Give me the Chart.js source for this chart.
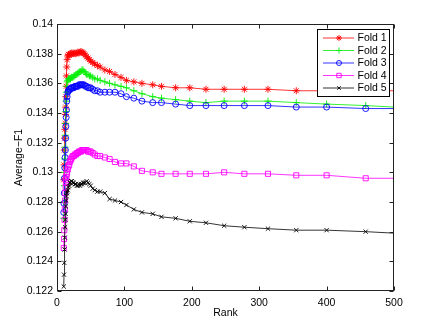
<!DOCTYPE html>
<html>
<head>
<meta charset="utf-8">
<script src="https://cdn.jsdelivr.net/npm/chart.js@4.4.1/dist/chart.umd.min.js"></script>
<style>
  html, body { margin: 0; padding: 0; background: #fff; }
  #wrap { width: 436px; height: 328px; }
</style>
</head>
<body>
<div id="wrap"><canvas id="chart" width="436" height="328"></canvas></div>
<script>
// x positions (rank) shared by every fold
const rank = [
    10, 10.4, 10.8, 11.2, 11.6, 12, 12.4, 12.8, 13.2, 13.6,
    14, 14.5, 15, 16, 17, 18, 19, 20, 21, 22,
    23.5, 25, 26.5, 28, 29.5, 31, 32.5, 34, 35.5, 37,
    38.5, 40, 42, 44, 46, 48, 50, 53, 56, 60,
    64, 71, 78, 86, 95, 103, 114, 126, 142, 155,
    176, 197, 221, 248, 278, 313, 355, 400, 458, 500
];

const fold1 = [
    0.1295, 0.1305, 0.1315, 0.1323, 0.1329, 0.1333, 0.1339, 0.1344, 0.1351, 0.1358,
    0.1365, 0.1371, 0.1376, 0.13785, 0.13795, 0.1379, 0.13795, 0.1380, 0.13795, 0.13805,
    0.1380, 0.13805, 0.1380, 0.1380, 0.13805, 0.1381, 0.13805, 0.1381, 0.13815, 0.1381,
    0.13805, 0.1380, 0.1379, 0.1378, 0.1377, 0.1376, 0.1375, 0.1374, 0.1373, 0.1372,
    0.1371, 0.1369, 0.1368, 0.1366, 0.1364, 0.1362, 0.1361, 0.1360, 0.1359, 0.1358,
    0.1357, 0.1357, 0.1356, 0.1356, 0.1356, 0.1356, 0.1355, 0.1355, 0.1355, 0.1355
];
const fold2 = [
    0.1269, 0.1280, 0.1291, 0.1300, 0.1309, 0.1317, 0.1325, 0.1333, 0.1341, 0.1348,
    0.1354, 0.1358, 0.1361, 0.1362, 0.1363, 0.1363, 0.1363, 0.1363, 0.1364, 0.1364,
    0.1364, 0.1365, 0.1365, 0.1366, 0.1366, 0.1367, 0.1367, 0.1368, 0.1368, 0.1369,
    0.1369, 0.1368, 0.1367, 0.1366, 0.1366, 0.1365, 0.1365, 0.1364, 0.1363, 0.1363,
    0.1362, 0.1361, 0.1360, 0.1359, 0.1358, 0.1357, 0.1355, 0.1353, 0.1351, 0.1350,
    0.1349, 0.1348, 0.1347, 0.1348, 0.1348, 0.1348, 0.1347, 0.1346, 0.1345, 0.1344
];
const fold3 = [
    0.1273, 0.1279, 0.1286, 0.1296, 0.1303, 0.1310, 0.1315, 0.1323, 0.1331, 0.1337,
    0.1342, 0.1348, 0.1351, 0.1354, 0.1355, 0.1356, 0.1356, 0.1356, 0.1357, 0.1357,
    0.1357, 0.1357, 0.1358, 0.1358, 0.1358, 0.1358, 0.1359, 0.1359, 0.1359, 0.1359,
    0.1359, 0.1359, 0.1358, 0.1358, 0.1357, 0.1357, 0.1357, 0.1356, 0.1355, 0.1355,
    0.1354, 0.1354, 0.1354, 0.1354, 0.1353, 0.1351, 0.1350, 0.1348, 0.1347, 0.1347,
    0.1346, 0.1345, 0.1345, 0.1345, 0.1345, 0.1345, 0.1344, 0.1344, 0.1343, 0.1343
];
const fold4 = [
    0.1249, 0.1255, 0.1261, 0.1268, 0.1275, 0.1281, 0.1286, 0.1290, 0.1293, 0.1295,
    0.1297, 0.1299, 0.1300, 0.1302, 0.1304, 0.1305, 0.1307, 0.1308, 0.1309, 0.1310,
    0.1311, 0.1311, 0.1312, 0.1312, 0.1313, 0.1313, 0.1314, 0.1314, 0.1314, 0.1315,
    0.1315, 0.1315, 0.1315, 0.1315, 0.1314, 0.1314, 0.1314, 0.1313, 0.1312, 0.1311,
    0.1311, 0.1310, 0.1309, 0.1307, 0.1306, 0.1306, 0.1304, 0.1301, 0.1300, 0.1299,
    0.1299, 0.1299, 0.1299, 0.1300, 0.1299, 0.1299, 0.1298, 0.1298, 0.1296, 0.1296
];
const fold5 = [
    0.1223, 0.1231, 0.1239, 0.1248, 0.1256, 0.1263, 0.1268, 0.1272, 0.1277, 0.1281,
    0.1284, 0.1286, 0.1287, 0.1288, 0.1290, 0.1291, 0.1293, 0.1293, 0.1294, 0.1294,
    0.1293, 0.1293, 0.1292, 0.1292, 0.1291, 0.1291, 0.1292, 0.1291, 0.1292, 0.1292,
    0.1293, 0.1293, 0.1293, 0.1294, 0.1293, 0.1292, 0.1291, 0.1289, 0.1288, 0.1287,
    0.1287, 0.1286, 0.1282, 0.1281, 0.1280, 0.1278, 0.1275, 0.1273, 0.1272, 0.1270,
    0.1269, 0.1267, 0.1266, 0.1264, 0.1263, 0.1262, 0.1261, 0.1261, 0.1260, 0.1259
];

const foldNames = ['Fold 1', 'Fold 2', 'Fold 3', 'Fold 4', 'Fold 5'];
const foldValues = [fold1, fold2, fold3, fold4, fold5];
const foldColors = ['#ff0000', '#00ee00', '#0000ff', '#ff00ff', '#000000'];
const foldMarkers = ['star', 'cross', 'circle', 'rect', 'crossRot'];
const markerRadius = { star: 3.5, cross: 3.5, circle: 3, rect: 3.6, crossRot: 3 };

const xTicks = [0, 100, 200, 300, 400, 500];
const yTicks = [0.122, 0.124, 0.126, 0.128, 0.13, 0.132, 0.134, 0.136, 0.138, 0.14];

const FONT = { family: '"Liberation Sans", Arial, Helvetica, sans-serif', size: 10.5 };

function fmtTick(v) {
    return String(parseFloat(Number(v).toFixed(4)));
}

// MATLAB-like box with inward ticks, plus the legend box
const matlabFrame = {
    id: 'matlabFrame',
    afterDatasetsDraw(chart) {
        const { ctx, chartArea: a, scales } = chart;
        const L = Math.round(a.left) + 0.5, R = Math.round(a.right) - 0.5;
        const T = Math.round(a.top) + 0.5, B = Math.round(a.bottom) - 0.5;
        const tl = 4;
        ctx.save();
        ctx.strokeStyle = '#222';
        ctx.lineWidth = 1;
        ctx.strokeRect(L, T, R - L, B - T);
        ctx.beginPath();
        xTicks.forEach(v => {
            const px = Math.round(scales.x.getPixelForValue(v)) + 0.5;
            ctx.moveTo(px, B); ctx.lineTo(px, B - tl);
            ctx.moveTo(px, T); ctx.lineTo(px, T + tl);
        });
        yTicks.forEach(v => {
            const py = Math.round(scales.y.getPixelForValue(v)) + 0.5;
            ctx.moveTo(L, py); ctx.lineTo(L + tl, py);
            ctx.moveTo(R, py); ctx.lineTo(R - tl, py);
        });
        ctx.stroke();

        // legend
        const bx = 317.5, by = 29.5, bw = 72, bh = 67;
        ctx.fillStyle = '#fff';
        ctx.fillRect(bx, by, bw, bh);
        ctx.strokeStyle = '#000';
        ctx.strokeRect(bx, by, bw, bh);
        ctx.font = `${FONT.size}px ${FONT.family}`;
        ctx.textBaseline = 'middle';
        foldNames.forEach((name, i) => {
            const cy = 38 + i * 12.5;
            ctx.strokeStyle = foldColors[i];
            ctx.lineWidth = 0.8;
            ctx.beginPath();
            ctx.moveTo(323, cy); ctx.lineTo(354, cy);
            ctx.stroke();
            ctx.lineWidth = 0.9;
            ctx.fillStyle = 'rgba(0,0,0,0)';
            Chart.helpers.drawPoint(ctx, {
                pointStyle: foldMarkers[i],
                radius: markerRadius[foldMarkers[i]] - 0.5,
                borderWidth: 0.9,
                rotation: 0
            }, 339, cy);
            ctx.fillStyle = '#000';
            ctx.fillText(name, 357.5, cy + 0.5);
        });
        ctx.restore();
    }
};

const datasets = foldNames.map((name, i) => ({
    label: name,
    data: rank.map((r, j) => ({ x: r, y: foldValues[i][j] })),
    borderColor: foldColors[i],
    backgroundColor: 'transparent',
    borderWidth: 0.8,
    pointStyle: foldMarkers[i],
    pointRadius: ctx => (rank[ctx.dataIndex] >= 500 ? 0 : markerRadius[foldMarkers[i]]),
    pointBorderWidth: 0.9,
    pointBorderColor: foldColors[i],
    pointBackgroundColor: 'transparent',
    tension: 0,
    order: 5 - i
}));

new Chart(document.getElementById('chart').getContext('2d'), {
    type: 'line',
    data: { datasets },
    options: {
        responsive: false,
        animation: false,
        devicePixelRatio: 1,
        layout: { padding: { top: 24, right: 42, left: 0, bottom: 0 } },
        plugins: { legend: { display: false }, tooltip: { enabled: false } },
        scales: {
            x: {
                type: 'linear',
                min: 0,
                max: 500,
                afterBuildTicks: scale => { scale.ticks = xTicks.map(v => ({ value: v })); },
                afterFit: scale => { scale.height = 37; },
                grid: { display: false, drawTicks: false },
                border: { display: false },
                ticks: { color: '#000', font: FONT, padding: 6, maxRotation: 0, callback: v => fmtTick(v) },
                title: { display: true, text: 'Rank', color: '#000', font: FONT, padding: { top: 0, bottom: 8.5 } }
            },
            y: {
                type: 'linear',
                min: 0.122,
                max: 0.14,
                afterBuildTicks: scale => { scale.ticks = yTicks.map(v => ({ value: v })); },
                afterFit: scale => { scale.width = 57; },
                grid: { display: false, drawTicks: false },
                border: { display: false },
                ticks: { color: '#000', font: FONT, padding: 4, callback: v => fmtTick(v) },
                title: { display: true, text: 'Average\u2212F1', color: '#000', font: FONT, padding: { top: 13, bottom: 0 } }
            }
        }
    },
    plugins: [matlabFrame]
});
</script>
</body>
</html>
